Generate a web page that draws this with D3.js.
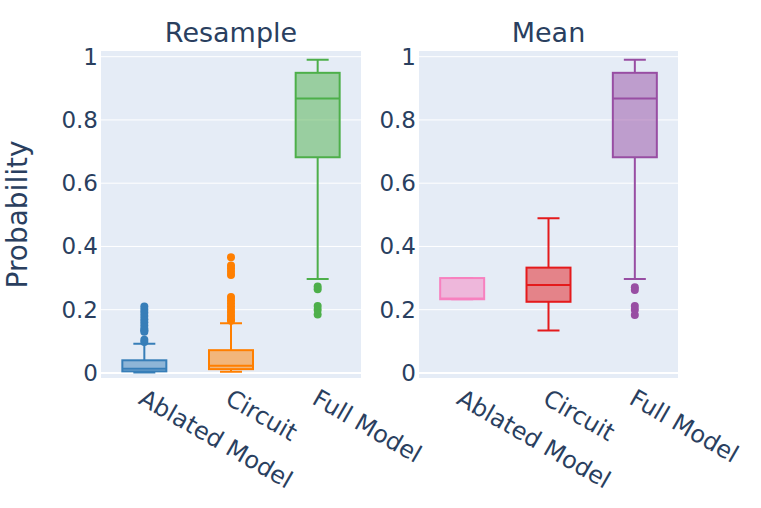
<!DOCTYPE html>
<html>
<head>
<meta charset="utf-8">
<script src="https://cdn.jsdelivr.net/npm/d3@7"></script>
<style>
    body { margin: 0; background: #fff; }
    text { font-family: "DejaVu Sans", Verdana, sans-serif; fill: #2a3f5f; }
</style>
</head>
<body>
<div id="chart"></div>
<script>
// categories and panels
var categories = ["Ablated Model", "Circuit", "Full Model"];
var panels = ["Resample", "Mean"];
var yTicks = [0, 0.2, 0.4, 0.6, 0.8, 1];

// box stats, one entry per category
var resampleLow = [0.001, 0.004, 0.297];
var resampleQ1 = [0.005, 0.012, 0.682];
var resampleMedian = [0.013, 0.023, 0.868];
var resampleQ3 = [0.040, 0.072, 0.949];
var resampleHigh = [0.092, 0.157, 0.990];
var resampleOutliers = [
    [0.098, 0.105, 0.13, 0.135, 0.14, 0.15, 0.16, 0.17, 0.18, 0.19, 0.20, 0.21],
    [0.165, 0.17, 0.18, 0.19, 0.20, 0.21, 0.22, 0.23, 0.24, 0.31, 0.32, 0.33, 0.34, 0.366],
    [0.185, 0.20, 0.212, 0.265, 0.273]
];

var meanLow = [0.233, 0.134, 0.297];
var meanQ1 = [0.233, 0.225, 0.682];
var meanMedian = [0.235, 0.278, 0.868];
var meanQ3 = [0.300, 0.333, 0.949];
var meanHigh = [0.300, 0.489, 0.990];
var meanOutliers = [
    [],
    [],
    [0.183, 0.20, 0.212, 0.262, 0.271]
];

var resampleColors = ["#377eb8", "#ff7f00", "#4daf4a"];
var meanColors = ["#f781bf", "#e41a1c", "#984ea3"];

var W = 761, H = 508;
var plotTop = 51, plotBottom = 378;
var panelX = [[101, 361], [419, 678]];

var svg = d3.select("#chart").append("svg")
    .attr("width", W)
    .attr("height", H);

var y = d3.scaleLinear()
    .domain([-0.016, 1.018])
    .range([plotBottom, plotTop]);

function boxData(lo, q1, med, q3, hi, out, colors) {
    return categories.map(function (c, i) {
        return { cat: c, lo: lo[i], q1: q1[i], med: med[i], q3: q3[i], hi: hi[i], out: out[i], color: colors[i] };
    });
}

var panelData = [
    boxData(resampleLow, resampleQ1, resampleMedian, resampleQ3, resampleHigh, resampleOutliers, resampleColors),
    boxData(meanLow, meanQ1, meanMedian, meanQ3, meanHigh, meanOutliers, meanColors)
];

panels.forEach(function (title, p) {
    var x = d3.scaleBand()
        .domain(categories)
        .range(panelX[p]);
    var g = svg.append("g");

    g.append("rect")
        .attr("x", panelX[p][0])
        .attr("y", plotTop)
        .attr("width", panelX[p][1] - panelX[p][0])
        .attr("height", plotBottom - plotTop)
        .attr("fill", "#E5ECF6");

    // grid
    g.selectAll(".grid")
        .data(yTicks)
        .enter()
        .append("line")
        .attr("x1", panelX[p][0])
        .attr("x2", panelX[p][1])
        .attr("y1", function (d) { return y(d); })
        .attr("y2", function (d) { return y(d); })
        .attr("stroke", "#fff")
        .attr("stroke-width", function (d) { return d === 0 ? 2 : 1; });

    var yAxis = d3.axisLeft(y)
        .tickValues(yTicks)
        .tickSize(0)
        .tickPadding(3)
        .tickFormat(function (d) { return d3.format("~g")(d); });
    var ya = g.append("g")
        .attr("transform", "translate(" + panelX[p][0] + ",0)")
        .call(yAxis);
    ya.select(".domain").remove();
    ya.selectAll("text")
        .style("font-size", "23px")
        .attr("fill", "#2a3f5f");

    // x tick labels, angled
    g.selectAll(".xlab")
        .data(categories)
        .enter()
        .append("text")
        .attr("transform", function (d) {
            return "translate(" + (x(d) + x.bandwidth() / 2 - 7) + ",403) rotate(30)";
        })
        .attr("text-anchor", "start")
        .style("font-size", "24px")
        .text(function (d) { return d; });

    g.append("text")
        .attr("x", (panelX[p][0] + panelX[p][1]) / 2)
        .attr("y", 42)
        .attr("text-anchor", "middle")
        .style("font-size", "27px")
        .text(title);

    var bw = 44, cw = 22;
    var boxes = g.selectAll(".box")
        .data(panelData[p])
        .enter()
        .append("g")
        .attr("transform", function (d) {
            return "translate(" + (x(d.cat) + x.bandwidth() / 2) + ",0)";
        });

    // whiskers
    boxes.append("path")
        .attr("d", function (d) {
            return "M0," + y(d.q3) + "V" + y(d.hi) + "M" + (-cw / 2) + "," + y(d.hi) + "H" + (cw / 2) +
                "M0," + y(d.q1) + "V" + y(d.lo) + "M" + (-cw / 2) + "," + y(d.lo) + "H" + (cw / 2);
        })
        .attr("fill", "none")
        .attr("stroke", function (d) { return d.color; })
        .attr("stroke-width", 2);

    boxes.append("rect")
        .attr("x", -bw / 2)
        .attr("width", bw)
        .attr("y", function (d) { return y(d.q3); })
        .attr("height", function (d) { return y(d.q1) - y(d.q3); })
        .attr("fill", function (d) { return d.color; })
        .attr("fill-opacity", 0.5)
        .attr("stroke", function (d) { return d.color; })
        .attr("stroke-width", 2);

    boxes.append("line")
        .attr("x1", -bw / 2)
        .attr("x2", bw / 2)
        .attr("y1", function (d) { return y(d.med); })
        .attr("y2", function (d) { return y(d.med); })
        .attr("stroke", function (d) { return d.color; })
        .attr("stroke-width", 2);

    boxes.selectAll("circle")
        .data(function (d) {
            return d.out.map(function (v) { return { v: v, color: d.color }; });
        })
        .enter()
        .append("circle")
        .attr("cx", 0)
        .attr("cy", function (d) { return y(d.v); })
        .attr("r", 4)
        .attr("fill", function (d) { return d.color; });
});

svg.append("text")
    .attr("transform", "translate(27," + (plotTop + plotBottom) / 2 + ") rotate(-90)")
    .attr("text-anchor", "middle")
    .style("font-size", "28px")
    .text("Probability");
</script>
</body>
</html>
